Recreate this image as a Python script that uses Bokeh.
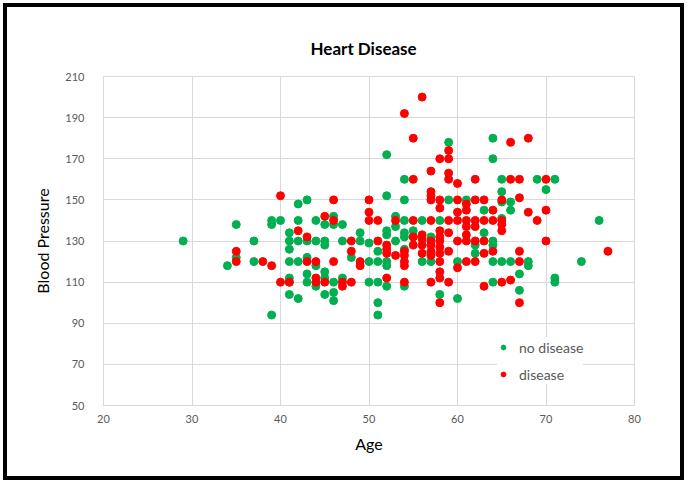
from bokeh.plotting import figure
from bokeh.models import Range1d, FixedTicker, Legend, LegendItem, ColumnDataSource
from bokeh.embed import file_html
from bokeh.resources import INLINE

# ---- data ----
x_ticks = [20, 30, 40, 50, 60, 70, 80]
y_ticks = [50, 70, 90, 110, 130, 150, 170, 190, 210]

no_age = [29, 34, 35, 35, 37, 37, 39, 39, 39, 40, 41, 42, 43, 42, 44, 46, 45, 46, 47,
          41, 42, 43, 44, 45, 45, 47, 49, 41, 41, 42, 43, 44, 48, 43, 45, 45, 41, 41,
          43, 44, 46, 47, 41, 42, 45, 46, 46, 52, 54, 54, 49, 50, 52, 52, 51, 53, 54,
          53, 53, 54, 54, 54, 50, 51, 52, 52, 50, 51, 52, 54, 51, 51, 59, 61, 65, 63,
          56, 58, 63, 55, 55, 57, 62, 62, 64, 64, 56, 57, 60, 64, 65, 64, 58, 60, 65,
          69, 71, 70, 66, 66, 76, 65, 66, 68, 68, 67, 74, 71, 71, 67, 59, 64, 52, 64,
          65]
no_bp = [130, 118, 138, 122, 130, 120, 94, 140, 138, 140, 134, 148, 150, 140, 140, 142, 138, 138, 138,
         130, 130, 130, 130, 130, 128, 130, 130, 126, 120, 120, 122, 118, 122, 114, 115, 112, 112, 110,
         110, 108, 110, 112, 104, 102, 104, 105, 101, 152, 150, 160, 134, 129, 135, 133, 125, 142, 140,
         137, 130, 134, 132, 126, 120, 120, 120, 118, 110, 110, 108, 108, 100, 94, 150, 150, 154, 145,
         140, 140, 134, 135, 132, 132, 128, 124, 130, 128, 120, 120, 120, 120, 120, 110, 104, 102, 160,
         160, 160, 155, 149, 145, 140, 141, 120, 120, 118, 114, 120, 112, 110, 106, 178, 180, 172, 170,
         149]

dis_age = [35, 35, 38, 39, 40, 42, 43, 46, 45, 46, 48, 43, 44, 46, 48, 49, 40, 41, 44, 44, 45, 47,
           47, 48, 50, 50, 50, 51, 51, 52, 52, 52, 53, 53, 55, 55, 55, 54, 54, 54, 54, 49, 52, 54,
           57, 57, 57, 58, 60, 61, 61, 62, 63, 58, 60, 64, 57, 59, 60, 61, 62, 63, 64, 65, 58, 59,
           61, 61, 62, 65, 65, 56, 56, 56, 57, 57, 57, 58, 58, 58, 58, 59, 60, 61, 62, 63, 63, 64,
           56, 57, 58, 60, 61, 62, 58, 58, 57, 59, 63, 65, 58, 66, 68, 66, 67, 70, 67, 68, 70, 69,
           70, 77, 67, 67, 66, 67, 56, 54, 55, 59, 59, 58, 57, 59, 55, 59, 60, 62, 65]
dis_bp = [125, 120, 120, 118, 152, 135, 132, 150, 142, 140, 130, 120, 120, 120, 125, 120, 110, 110, 112, 110, 110, 110,
          108, 110, 150, 144, 140, 140, 130, 128, 126, 124, 140, 123, 140, 132, 128, 125, 123, 120, 118, 118, 112, 110,
          154, 152, 150, 150, 150, 148, 145, 150, 150, 146, 144, 145, 140, 140, 140, 140, 140, 140, 140, 140, 135, 134,
          137, 133, 137, 138, 135, 133, 131, 128, 130, 128, 125, 132, 130, 127, 124, 125, 130, 130, 130, 130, 124, 125,
          124, 123, 120, 117, 120, 120, 115, 112, 110, 110, 108, 110, 100, 178, 180, 160, 160, 160, 151, 144, 145, 140,
          130, 125, 125, 120, 111, 100, 200, 192, 180, 174, 170, 170, 164, 163, 160, 160, 158, 160, 150]

GREEN = "#00B050"
RED = "#FF0000"
GRAY_TXT = "#595959"
GRID = "#d9d9d9"
FONT = "Lato"

p = figure(width=681, height=477,
           x_range=Range1d(20, 80), y_range=Range1d(50, 210),
           output_backend="svg", toolbar_location=None,
           min_border_left=96, min_border_right=54,
           min_border_top=69, min_border_bottom=79)
p.styles = {"border": "4px solid black", "margin-left": "3px", "margin-top": "3px"}

p.title.text = "Heart Disease"
p.title.text_font = FONT
p.title.text_font_size = "17px"
p.title.text_font_style = "bold"
p.title.text_color = "black"
p.title.align = "left"
p.title.offset = 207
p.title.standoff = 36

for ax in (p.xaxis[0], p.yaxis[0]):
    ax.major_tick_line_color = None
    ax.minor_tick_line_color = None
    ax.axis_line_color = GRID
    ax.major_label_text_color = GRAY_TXT
    ax.major_label_text_font = FONT
    ax.major_label_text_font_size = "11px"
    ax.axis_label_text_font = FONT
    ax.axis_label_text_font_size = "16px"
    ax.axis_label_text_font_style = "normal"
    ax.axis_label_text_color = "black"

p.xaxis.ticker = FixedTicker(ticks=x_ticks)
p.yaxis.ticker = FixedTicker(ticks=y_ticks)
p.xaxis.axis_label = "Age"
p.yaxis.axis_label = "Blood Pressure"
p.xaxis.major_label_standoff = 3
p.xaxis.axis_label_standoff = 8
p.yaxis.major_label_standoff = 13
p.yaxis.axis_label_standoff = 10

p.xgrid.ticker = FixedTicker(ticks=x_ticks)
p.ygrid.ticker = FixedTicker(ticks=y_ticks)
p.grid.grid_line_color = GRID
p.outline_line_color = GRID

src_no = ColumnDataSource(dict(x=no_age, y=no_bp))
src_dis = ColumnDataSource(dict(x=dis_age, y=dis_bp))
r_no = p.scatter("x", "y", source=src_no, size=8, fill_color=GREEN, line_color=GREEN)
r_dis = p.scatter("x", "y", source=src_dis, size=8, fill_color=RED, line_color=RED)

legend = Legend(items=[LegendItem(label="no disease", renderers=[r_no]),
                       LegendItem(label="disease", renderers=[r_dis])],
                location=(394, 21))
legend.border_line_color = None
legend.background_fill_color = "white"
legend.background_fill_alpha = 1.0
legend.label_text_font = FONT
legend.label_text_font_size = "14px"
legend.label_text_color = GRAY_TXT
legend.glyph_width = 12
legend.glyph_height = 20
legend.label_height = 20
legend.spacing = 7
legend.padding = 5
legend.margin = 0
legend.label_standoff = 10
p.add_layout(legend)

open("out.html", "w").write(file_html(p, INLINE))
